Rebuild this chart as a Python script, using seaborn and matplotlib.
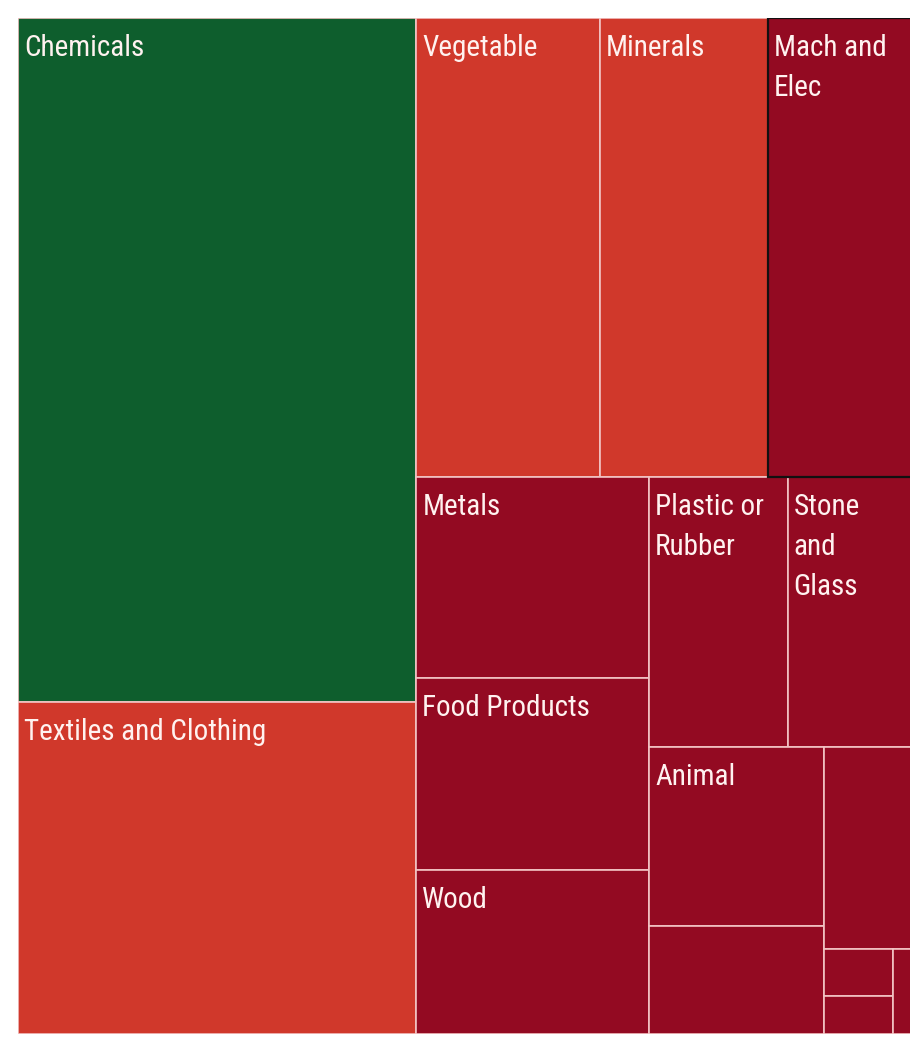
import matplotlib
matplotlib.use('Agg')
import matplotlib.pyplot as plt
from matplotlib.patches import Rectangle
import seaborn as sns

# Export share by product section (percent of total)
sections = ['Chemicals', 'Textiles and Clothing', 'Vegetable', 'Minerals', 'Mach and Elec',
            'Metals', 'Food Products', 'Wood', 'Plastic or Rubber', 'Stone and Glass',
            'Animal', '', '', '', '', '']
labels = ['Chemicals', 'Textiles and Clothing', 'Vegetable', 'Minerals', 'Mach and\nElec',
          'Metals', 'Food Products', 'Wood', 'Plastic or\nRubber', 'Stone\nand\nGlass',
          'Animal', '', '', '', '', '']
share = [29.96, 14.54, 9.27, 8.46, 7.34,
         5.15, 4.92, 4.20, 4.11, 3.72,
         3.44, 2.07, 1.99, 0.35, 0.29, 0.19]
tier = ['top', 'mid', 'mid', 'mid', 'low',
        'low', 'low', 'low', 'low', 'low',
        'low', 'low', 'low', 'low', 'low', 'low']
highlight = 'Mach and Elec'

# how many items go into each strip (alternating column / row)
strips = [2, 3, 3, 2, 2, 1, 2, 1]

tier_colors = {'top': '#0e5e2d', 'mid': '#d0382b', 'low': '#930a22'}

sns.set_theme(style='white')
plt.rcParams['font.family'] = ['Liberation Sans Narrow', 'DejaVu Sans Condensed',
                               'Roboto Condensed', 'Liberation Sans', 'DejaVu Sans']

fig = plt.figure(figsize=(9.10, 10.41), dpi=100)
# axes run a little past the right edge so the picture looks cropped there
ax = fig.add_axes([18 / 910, 7 / 1041, 895 / 910, 1016 / 1041])

W, H = 895.0, 1016.0
total = sum(share)
areas = [s / total * W * H for s in share]


def strip_layout(areas, counts, x, y, w, h):
    rects = []
    i = 0
    vertical = True
    for n in counts:
        chunk = areas[i:i + n]
        a = sum(chunk)
        if vertical:
            sw = a / h
            yy = y
            for v in chunk:
                rh = v / sw
                rects.append((x, yy, sw, rh))
                yy += rh
            x += sw
            w -= sw
        else:
            sh = a / w
            xx = x
            for v in chunk:
                rw = v / sh
                rects.append((xx, y, rw, sh))
                xx += rw
            y += sh
            h -= sh
        i += n
        vertical = not vertical
    return rects


rects = strip_layout(areas, strips, 0, 0, W, H)

hl = None
for (x, y, w, h), name, lab, t in zip(rects, sections, labels, tier):
    ax.add_patch(Rectangle((x, y), w, h, facecolor=tier_colors[t],
                           edgecolor='#f2c4c4', linewidth=1.2))
    if lab:
        ax.annotate(lab, xy=(x, y), xytext=(6, -16), textcoords='offset pixels',
                    ha='left', va='top', color='#fff2f0', fontsize=21,
                    fontstretch='condensed', linespacing=1.55)
    if name == highlight:
        hl = (x, y, w, h)

if hl is not None:
    ax.add_patch(Rectangle((hl[0], hl[1]), hl[2], hl[3], facecolor='none',
                           edgecolor='#111111', linewidth=1.6, zorder=5))

ax.set_xlim(0, W)
ax.set_ylim(H, 0)
ax.axis('off')

fig.savefig('out.png', dpi=100)
